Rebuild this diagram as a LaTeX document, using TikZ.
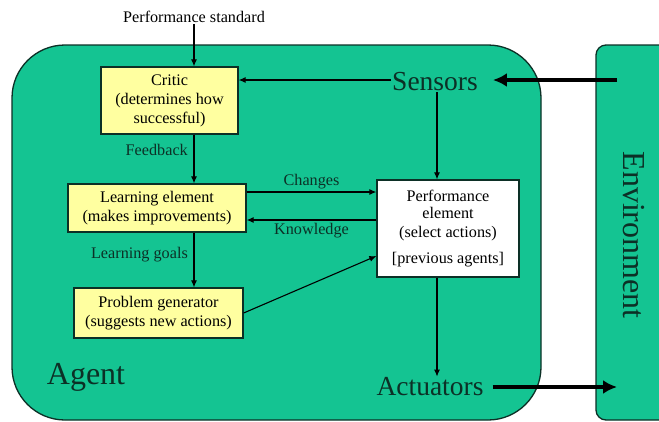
\documentclass[tikz,border=0pt]{standalone}
\usepackage{fontspec}
\setmainfont{Liberation Serif}
\usetikzlibrary{arrows.meta}
\definecolor{agentgreen}{RGB}{20,196,146}
\definecolor{boxyellow}{RGB}{255,255,160}
\definecolor{inkdark}{RGB}{12,48,38}
\tikzset{
  smallfont/.style={font=\fontsize{16.2}{19}\selectfont},
  bigfont/.style={font=\fontsize{27.5}{30}\selectfont},
  hugefont/.style={font=\fontsize{32}{34}\selectfont},
  elembox/.style={draw=inkdark, line width=1.3pt, fill=boxyellow, align=center,
    smallfont, text=black, inner sep=0pt},
  perfbox/.style={elembox, fill=white},
  lbl/.style={smallfont, text=inkdark, inner sep=1pt},
  flow/.style={draw=black, line width=1.1pt, -{Latex[length=7pt,width=6pt]}},
  bigflow/.style={draw=black, line width=4pt, -{Latex[length=14pt,width=14pt]}},
}
\begin{document}
\begin{tikzpicture}[x=1pt,y=-1pt]
\useasboundingbox (0,0) rectangle (659,421);
\clip (0,0) rectangle (659,421);
% agent and environment panels
\draw[fill=agentgreen, draw=inkdark, line width=1.3pt, rounded corners=53pt]
  (12,45) rectangle (541,420);
\draw[fill=agentgreen, draw=inkdark, line width=1.3pt, rounded corners=10pt]
  (596,45) rectangle (680,420);
% element boxes
\node[elembox, minimum width=137pt, minimum height=67pt] (critic) at (169.5,100.5)
  {Critic\\(determines how\\successful)};
\node[elembox, minimum width=178pt, minimum height=48pt] (learn) at (157,208)
  {Learning element\\(makes improvements)};
\node[elembox, minimum width=169pt, minimum height=50pt] (prob) at (158.5,313)
  {Problem generator\\(suggests new actions)};
\node[perfbox, minimum width=142pt, minimum height=97pt] (perf) at (448,228.5) {};
\node[smallfont, align=center, inner sep=0pt] (perftxt) at (448,215.5)
  {Performance\\[-1.5pt]element\\(select actions)};
\node[smallfont, inner sep=0pt] (prev) at (448,260) {[previous agents]};
% free texts
\node[smallfont, text=black, inner sep=1pt] (ps) at (194,17) {Performance standard};
\node[bigfont, text=inkdark, inner sep=1pt] (sensors) at (435,82) {Sensors};
\node[bigfont, text=inkdark, inner sep=1pt] (act) at (430,387) {Actuators};
\node[hugefont, text=inkdark, inner sep=0pt] (agent) at (86,377) {Agent};
\node[hugefont, text=inkdark, inner sep=0pt, rotate=-90] (env) at (634,235) {Environment};
% helper coordinates
\coordinate (xl) at (194,0);
\coordinate (xs) at (437,0);
\coordinate (ysens) at (0,80);
\coordinate (ychg) at (0,192);
\coordinate (yknw) at (0,220);
\coordinate (yprob) at (0,256);
\coordinate (yact) at (0,387);
\coordinate (envin) at (617,80);
\coordinate (envout) at (617,387);
% thin connectors
\draw[flow] (ps.south -| xl) -- (critic.north -| xl);
\draw[flow] (critic.south -| xl) -- (learn.north -| xl);
\draw[flow] (learn.south -| xl) -- (prob.north -| xl);
\draw[flow] (sensors.west |- ysens) -- (critic.east |- ysens);
\draw[flow] (sensors.south -| xs) -- (perf.north -| xs);
\draw[flow] (perf.south -| xs) -- (act.north -| xs);
\draw[flow] (learn.east |- ychg) -- node[lbl, above=1pt] (chglbl) {Changes} (perf.west |- ychg);
\draw[flow] (perf.west |- yknw) -- node[lbl, below=2pt] (knwlbl) {Knowledge} (learn.east |- yknw);
\draw[flow] (prob.east) -- (perf.west |- yprob);
\node[lbl, anchor=east] (fb) at (189,150) {Feedback};
\node[lbl, anchor=east] (lg) at (189,255) {Learning goals};
% heavy percept and action arrows
\draw[bigflow] (envin) -- ([xshift=14pt]sensors.east |- ysens);
\draw[bigflow] ([xshift=8pt]act.east |- yact) -- (envout);
\end{tikzpicture}
\end{document}
